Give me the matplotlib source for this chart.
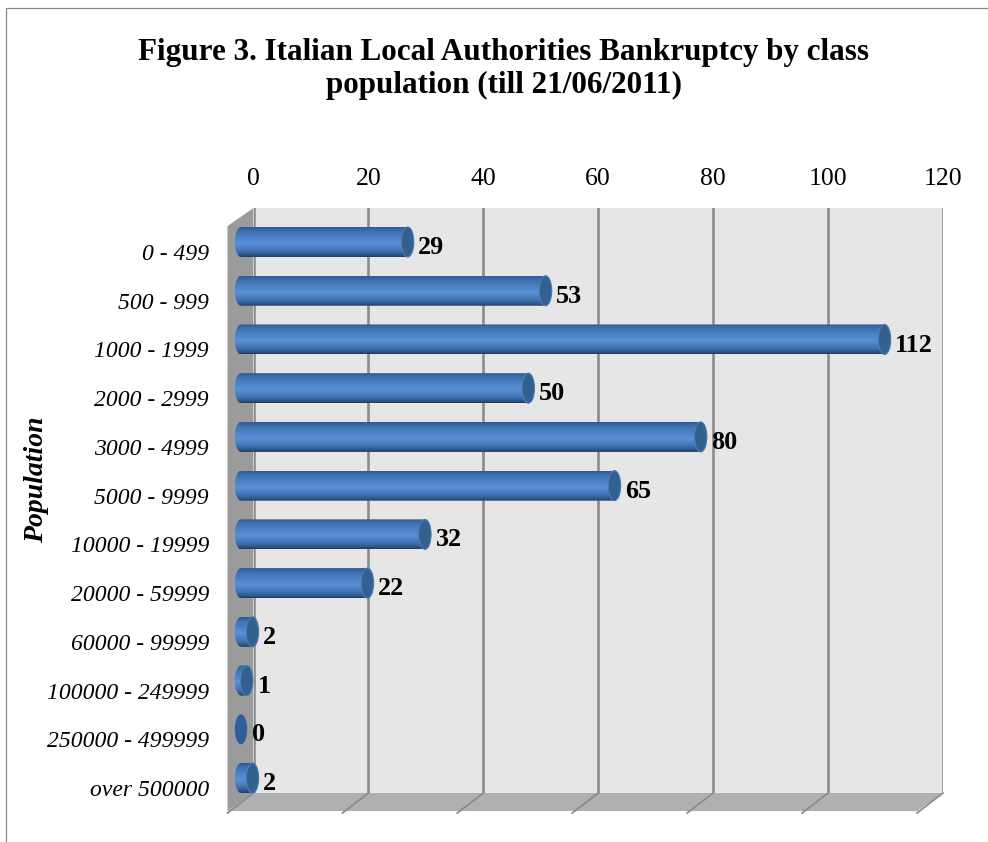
import numpy as np
import matplotlib
matplotlib.use("Agg")
import matplotlib.pyplot as plt
from matplotlib.colors import LinearSegmentedColormap
from matplotlib.patches import Ellipse, Polygon, PathPatch
from matplotlib.path import Path
from matplotlib.transforms import ScaledTranslation, Affine2D
from matplotlib.lines import Line2D

categories = ["0 - 499", "500 - 999", "1000 - 1999", "2000 - 2999", "3000 - 4999",
              "5000 - 9999", "10000 - 19999", "20000 - 59999", "60000 - 99999",
              "100000 - 249999", "250000 - 499999", "over 500000"]
values = [29, 53, 112, 50, 80, 65, 32, 22, 2, 1, 0, 2]
x_ticks = [0, 20, 40, 60, 80, 100, 120]
title = "Figure 3. Italian Local Authorities Bankruptcy by class\npopulation (till 21/06/2011)"
y_title = "Population"

W, H = 988, 842
plt.rcParams["font.family"] = ["Liberation Serif", "DejaVu Serif"]
fig = plt.figure(figsize=(W / 100, H / 100), dpi=100)
# pixel coordinates, origin at top-left
px = Affine2D().scale(1 / W, -1 / H).translate(0, 1) + fig.transFigure

L, R, T, B = 253.5, 943.0, 208.0, 793.0
DX, DY = 26.0, 18.0
ax = fig.add_axes([L / W, 1 - B / H, (R - L) / W, (B - T) / H], zorder=1)
ax.set_facecolor("#e6e6e6")
unit = (R - L) / 120
step = (778.0 - 242.0) / 11
ax.set_xlim(0, 120)
ax.set_ylim(11 + (B - 778.0) / step, -(242.0 - T) / step)
for s in ax.spines.values():
    s.set_visible(False)

GRID = "#8c8c8c"
ax.set_xticks(x_ticks)
ax.grid(axis="x", color=GRID, lw=1.9, zorder=1)
ax.set_axisbelow(True)
ax.tick_params(axis="x", top=True, bottom=False, labeltop=True, labelbottom=False,
               length=0, pad=13, labelsize=18.5, labelcolor="#000000")
ax.set_yticks(range(len(categories)))
ax.set_yticklabels(categories, style="italic", fontsize=17)
ax.tick_params(axis="y", length=0, pad=32)
off = ScaledTranslation(0, -10 / 100, fig.dpi_scale_trans)
for lab in ax.get_yticklabels():
    lab.set_transform(lab.get_transform() + off)

# frame
fig.add_artist(Line2D([6, 6, W], [H, 8, 8], transform=px, color="#8a8a8a", lw=0.9))

# 3-D walls
left_wall = [(L, T), (L, B), (L - DX, B + DY), (L - DX, T + DY)]
floor = [(L, B), (R, B), (R - DX, B + DY), (L - DX, B + DY)]
fig.add_artist(Polygon(left_wall, closed=True, transform=px, fc="#9b9b9b", ec="none", zorder=0.5))
fig.add_artist(Polygon(floor, closed=True, transform=px, fc="#b0b0b0", ec="none", zorder=0.5))
for t in x_ticks:
    xp = L + t * unit
    fig.add_artist(Line2D([xp, xp - DX], [B, B + DY + 2], transform=px, color=GRID, lw=1.3, zorder=0.6))

# cylinders
cmap = LinearSegmentedColormap.from_list("cyl", [
    (0.00, "#2f5b90"), (0.14, "#3f72b2"), (0.35, "#4d82c6"), (0.55, "#5a90d6"),
    (0.78, "#4476b8"), (0.92, "#2f5a90"), (1.00, "#1f3d63")])
grad = np.linspace(0, 1, 64).reshape(-1, 1)
x0 = -12.5 / unit            # bars stand in front of the back wall
rx = 6.2 / unit
hh = 15.0 / step
k = 0.5523
for i, v in enumerate(values):
    xe = x0 + v
    if v > 0:
        verts = [(x0, i - hh),
                 (xe, i - hh),
                 (xe + k * rx, i - hh), (xe + rx, i - k * hh), (xe + rx, i),
                 (xe + rx, i + k * hh), (xe + k * rx, i + hh), (xe, i + hh),
                 (x0, i + hh),
                 (x0 - k * rx, i + hh), (x0 - rx, i + k * hh), (x0 - rx, i),
                 (x0 - rx, i - k * hh), (x0 - k * rx, i - hh), (x0, i - hh),
                 (x0, i - hh)]
        codes = [Path.MOVETO, Path.LINETO, Path.CURVE4, Path.CURVE4, Path.CURVE4,
                 Path.CURVE4, Path.CURVE4, Path.CURVE4, Path.LINETO,
                 Path.CURVE4, Path.CURVE4, Path.CURVE4, Path.CURVE4, Path.CURVE4, Path.CURVE4,
                 Path.CLOSEPOLY]
        im = ax.imshow(grad, cmap=cmap, aspect="auto", zorder=3,
                       extent=(x0 - rx, xe + rx, i + hh, i - hh))
        patch = PathPatch(Path(verts, codes), transform=ax.transData, fc="none", ec="none")
        ax.add_patch(patch)
        im.set_clip_path(patch)
        im.set_clip_box(fig.bbox)
    ax.add_patch(Ellipse((xe, i), 2 * rx, 2 * hh, fc="#34608f" if v > 0 else "#2f5f98",
                         ec="#4a7cb8" if v > 0 else "none", lw=0.8, zorder=4, clip_on=False))
    ax.annotate(str(v), xy=(xe + rx, i), xytext=(3.2, -4), textcoords="offset points",
                ha="left", va="center", fontsize=18.8, fontweight="bold", zorder=5,
                annotation_clip=False)

ax.set_xlim(0, 120)
ax.set_ylim(11 + (B - 778.0) / step, -(242.0 - T) / step)

fig.text(503.5 / W, 1 - 69 / H, title, ha="center", va="center", fontsize=22.4,
         fontweight="bold", linespacing=1.17)
fig.text(37 / W, 1 - 480 / H, y_title, rotation=90, ha="center", va="center",
         fontsize=20, fontweight="bold", style="italic")

fig.savefig("out.png", dpi=100, facecolor="white")
